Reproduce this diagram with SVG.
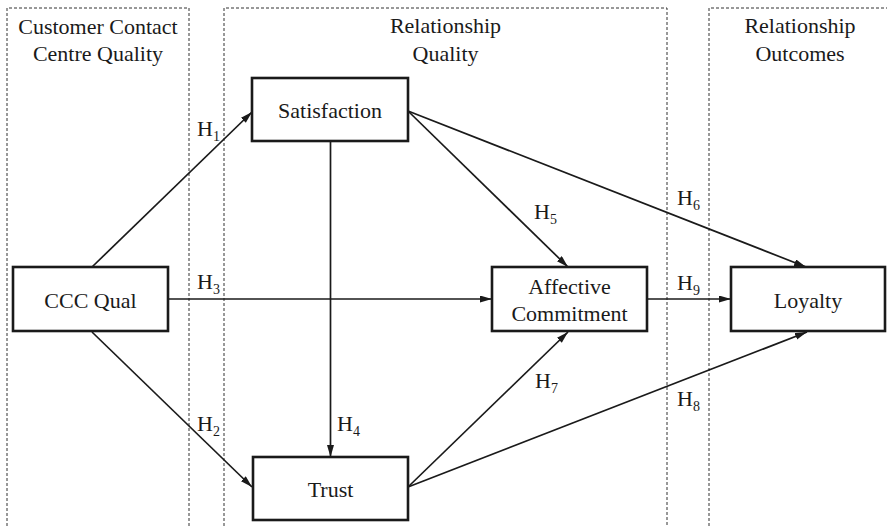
<svg xmlns="http://www.w3.org/2000/svg" width="887" height="526" viewBox="0 0 887 526">
<style>
.region{fill:none;stroke:#333;stroke-width:1;stroke-dasharray:3,2}
.box{fill:#fff;stroke:#1a1a1a;stroke-width:2.6}
text{font-family:'Liberation Serif','DejaVu Serif',serif;font-size:22px;fill:#1a1a1a}
.c{text-anchor:middle}
.sub{font-size:14px}
.edge{fill:none;stroke:#1a1a1a;stroke-width:1.7;marker-end:url(#arr)}
</style>
<defs>
<marker id="arr" markerUnits="userSpaceOnUse" markerWidth="13" markerHeight="8" refX="12" refY="3.5" orient="auto">
<path d="M0,0 L12,3.5 L0,7 z" fill="#1a1a1a"/>
</marker>
</defs>
<rect width="887" height="526" fill="#fff"/>
<g id="regions" font-family="Liberation Serif, serif">
<path class="region" d="M7,526 V8 H189 V526"/>
<path class="region" d="M224,526 V8 H667 V526"/>
<path class="region" d="M709,526 V8 H890"/>
<text class="c" x="98" y="34">Customer Contact</text>
<text class="c" x="98" y="61">Centre Quality</text>
<text class="c" x="445.5" y="33">Relationship</text>
<text class="c" x="445.5" y="61">Quality</text>
<text class="c" x="800" y="33">Relationship</text>
<text class="c" x="800" y="61">Outcomes</text>
</g>
<g id="connectors">
<line class="edge" x1="92" y1="267" x2="252" y2="112"/>
<line class="edge" x1="92" y1="332" x2="252" y2="487"/>
<line class="edge" x1="168" y1="299" x2="492" y2="299"/>
<line class="edge" x1="330.5" y1="141" x2="330.5" y2="457"/>
<line class="edge" x1="408" y1="111" x2="568" y2="267"/>
<line class="edge" x1="408" y1="111" x2="806" y2="267"/>
<line class="edge" x1="408" y1="487" x2="568" y2="332"/>
<line class="edge" x1="408" y1="487" x2="807" y2="332"/>
<line class="edge" x1="647" y1="299" x2="731" y2="299"/>
<text x="197" y="136">H<tspan class="sub" dy="5">1</tspan></text>
<text x="197" y="431">H<tspan class="sub" dy="5">2</tspan></text>
<text x="197" y="289">H<tspan class="sub" dy="5">3</tspan></text>
<text x="337" y="431">H<tspan class="sub" dy="5">4</tspan></text>
<text x="534" y="219">H<tspan class="sub" dy="5">5</tspan></text>
<text x="677" y="205">H<tspan class="sub" dy="5">6</tspan></text>
<text x="535" y="388">H<tspan class="sub" dy="5">7</tspan></text>
<text x="677" y="406">H<tspan class="sub" dy="5">8</tspan></text>
<text x="677" y="290">H<tspan class="sub" dy="5">9</tspan></text>
</g>
<g id="ccc">
<rect class="box" x="13" y="267" width="155" height="64"/>
<text class="c" x="90.5" y="308">CCC Qual</text>
</g>
<g id="satisfaction">
<rect class="box" x="252" y="78" width="156" height="63"/>
<text class="c" x="330" y="118">Satisfaction</text>
</g>
<g id="trust">
<rect class="box" x="253" y="457" width="155" height="63"/>
<text class="c" x="330.5" y="497">Trust</text>
</g>
<g id="affective">
<rect class="box" x="492" y="267" width="155" height="64"/>
<text class="c" x="569.5" y="294">Affective</text>
<text class="c" x="569.5" y="321">Commitment</text>
</g>
<g id="loyalty">
<rect class="box" x="731" y="267" width="154" height="64"/>
<text class="c" x="808" y="308">Loyalty</text>
</g>
</svg>
